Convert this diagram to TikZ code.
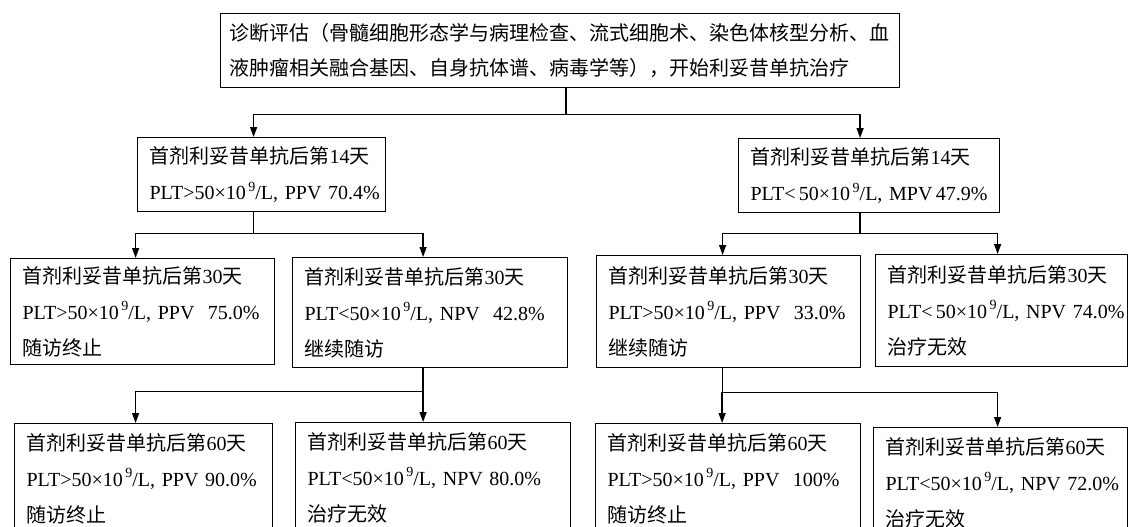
\documentclass[tikz,border=0pt]{standalone}
\usepackage{fontspec}
\setmainfont{Liberation Serif}
\newfontfamily\cjk{Noto Sans CJK SC}
\usetikzlibrary{arrows.meta}
\newcommand{\zh}[1]{{\cjk #1}}
\newcommand{\tnine}{×10\kern2.5pt\raisebox{0.42em}{\fontsize{14}{14}\selectfont 9}/L}
\newcommand{\afterdose}[1]{\zh{首剂利妥昔单抗后第}#1\zh{天}}

\begin{document}
\begin{tikzpicture}[x=1pt, y=-1pt, >={Triangle[length=10pt,width=7pt]},
    box/.style={draw, line width=1.2pt, anchor=north west, align=left, inner xsep=12pt, inner ysep=0pt, font=\fontsize{20}{36}\selectfont},
    conn/.style={line width=1.3pt}]
    \useasboundingbox (0,0) rectangle (1128,527);
    \clip (0,0) rectangle (1128,527);
    % diagnosis
    \node[box, inner xsep=9pt, text width=661pt, minimum height=74pt, font=\fontsize{20}{35}\selectfont] (diag) at (220,13)
        {\zh{诊断评估（骨髓细胞形态学与病理检查、流式细胞术、染色体核型分析、血}\\ \zh{液肿瘤相关融合基因、自身抗体谱、病毒学等），开始利妥昔单抗治疗}};
    % day 14
    \node[box, text width=224pt, minimum height=74pt] (d14a) at (137,137) {\afterdose{14}\\ \mbox{PLT>50\tnine, PPV 70.4\%}};
    \node[box, text width=237pt, minimum height=74pt] (d14b) at (738,138) {\afterdose{14}\\ \mbox{PLT<\,50\tnine, MPV\,47.9\%}};
    % day 30
    \node[box, text width=240pt, minimum height=106pt] (d30a) at (10,258) {\afterdose{30}\\ \mbox{PLT>50\tnine, PPV\ \ 75.0\%}\\ \zh{随访终止}};
    \node[box, text width=251pt, minimum height=110pt] (d30b) at (292,257) {\afterdose{30}\\ \mbox{PLT<50\tnine, NPV\ \ 42.8\%}\\ \zh{继续随访}};
    \node[box, text width=240pt, minimum height=112pt] (d30c) at (596,255) {\afterdose{30}\\ \mbox{PLT>50\tnine, PPV\ \ 33.0\%}\\ \zh{继续随访}};
    \node[box, text width=228pt, minimum height=112pt] (d30d) at (875,254) {\afterdose{30}\\ \mbox{PLT<\,50\tnine, NPV 74.0\%}\\ \zh{治疗无效}};
    % day 60
    \node[box, text width=234pt, minimum height=110pt] (d60a) at (14,423) {\afterdose{60}\\ \mbox{PLT>50\tnine, PPV 90.0\%}\\ \zh{随访终止}};
    \node[box, text width=251pt, minimum height=110pt] (d60b) at (295,422) {\afterdose{60}\\ \mbox{PLT<50\tnine, NPV 80.0\%}\\ \zh{治疗无效}};
    \node[box, text width=241pt, minimum height=110pt] (d60c) at (595,423) {\afterdose{60}\\ \mbox{PLT>50\tnine, PPV\ \ 100\%}\\ \zh{随访终止}};
    \node[box, text width=230pt, minimum height=110pt] (d60d) at (873,427) {\afterdose{60}\\ \mbox{PLT<50\tnine, NPV 72.0\%}\\ \zh{治疗无效}};
    % connectors
    \draw[conn] ([xshift=6pt]diag.south) -- ++(0,26) coordinate (j1);
    \draw[conn, ->] (j1) -| ([xshift=-8pt]d14a.north);
    \draw[conn, ->] (j1) -| ([xshift=-9pt]d14b.north);
    \draw[conn] ([xshift=-8pt]d14a.south) -- ++(0,21) coordinate (j2);
    \draw[conn, ->] (j2) -| ([xshift=-7pt]d30a.north);
    \draw[conn, ->] (j2) -| ([xshift=-7pt]d30b.north);
    \draw[conn] ([xshift=-9pt]d14b.south) -- ++(0,20) coordinate (j3);
    \draw[conn, ->] (j3) -| ([xshift=-6pt]d30c.north);
    \draw[conn, ->] (j3) -| ([xshift=-4pt]d30d.north);
    \draw[conn] ([xshift=-7pt]d30b.south) -- ++(0,23) coordinate (j4);
    \draw[conn, ->] (j4) -| ([xshift=-8pt]d60a.north);
    \draw[conn, ->] (j4) -| ([xshift=-10pt]d60b.north);
    \draw[conn] ([xshift=-6pt]d30c.south) -- ++(0,24) coordinate (j5);
    \draw[conn, ->] (j5) -| ([xshift=-6pt]d60c.north);
    \draw[conn, ->] (j5) -| ([xshift=-3pt]d60d.north);
\end{tikzpicture}
\end{document}
